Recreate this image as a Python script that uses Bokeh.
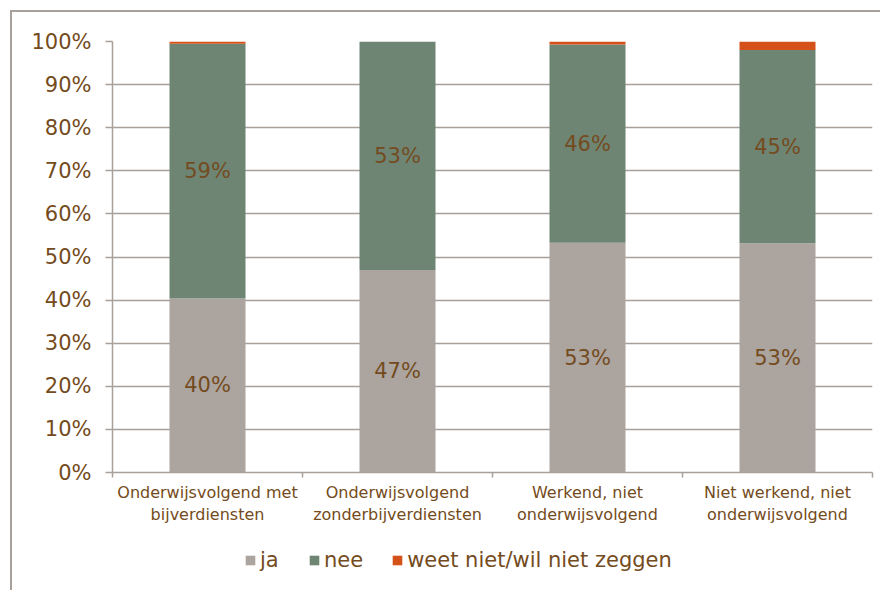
import numpy as np
from bokeh.plotting import figure
from bokeh.layouts import column
from bokeh.core.properties import value
from bokeh.models import (ColumnDataSource, FixedTicker, PrintfTickFormatter, Range1d,
                          Legend, LegendItem, LabelSet)
from bokeh.embed import file_html
from bokeh.resources import INLINE

categories = ["Onderwijsvolgend met\nbijverdiensten",
              "Onderwijsvolgend\nzonderbijverdiensten",
              "Werkend, niet\nonderwijsvolgend",
              "Niet werkend, niet\nonderwijsvolgend"]
ja = [40.4, 47.0, 53.3, 53.2]
nee = [59.1, 53.0, 46.0, 44.8]
weet = [0.5, 0.0, 0.7, 2.0]
series_names = ["ja", "nee", "weet niet/wil niet zeggen"]
y_ticks = list(range(0, 101, 10))

colors = ["#ABA49F", "#6E8574", "#D5511A"]
TXT = "#744B20"
GRID = "#A8A09A"
FONT = "DejaVu Sans"
W = 880

xpos = list(np.arange(len(categories)) + 0.5)
src = ColumnDataSource(dict(
    x=xpos, ja=ja, nee=nee, weet=weet,
    ja_mid=[v / 2 for v in ja],
    nee_mid=[a + b / 2 for a, b in zip(ja, nee)],
    ja_lab=[f"{round(v)}%" for v in ja],
    nee_lab=[f"{round(v)}%" for v in nee],
))

p = figure(width=W, height=530, output_backend="svg", toolbar_location=None,
           x_range=Range1d(0, len(categories)), y_range=Range1d(0, 100),
           min_border_left=112, min_border_right=8, min_border_top=41,
           min_border_bottom=58)
p.outline_line_color = None
p.background_fill_color = "white"
p.border_fill_color = None
p.styles = {
    "background-image": "linear-gradient(#A8A09A,#A8A09A), linear-gradient(#A8A09A,#A8A09A)",
    "background-size": "2px 100%, 100% 2px",
    "background-position": "10px 10px, 10px 10px",
    "background-repeat": "no-repeat",
}

renderers = p.vbar_stack(["ja", "nee", "weet"], x="x", width=0.4, source=src,
                         color=colors, line_color=None)

# Labels
for ycol, tcol in (("ja_mid", "ja_lab"), ("nee_mid", "nee_lab")):
    p.add_layout(LabelSet(x="x", y=ycol, text=tcol, source=src,
                          text_align="center", text_baseline="middle",
                          text_font=value(FONT), text_font_size=value("21px"),
                          text_color=TXT))

# Y axis
p.yaxis.ticker = FixedTicker(ticks=y_ticks, minor_ticks=[])
p.yaxis.formatter = PrintfTickFormatter(format="%d%%")
p.yaxis.major_label_text_font = FONT
p.yaxis.major_label_text_font_size = "21px"
p.yaxis.major_label_text_color = TXT
p.yaxis.major_label_standoff = 14
p.yaxis.major_tick_out = 7
p.yaxis.major_tick_in = 0
p.yaxis.major_tick_line_color = GRID
p.yaxis.major_tick_line_width = 1.5
p.yaxis.axis_line_color = GRID
p.yaxis.axis_line_width = 1.5
p.yaxis.minor_tick_line_color = None

# X axis
p.xaxis.ticker = FixedTicker(ticks=xpos, minor_ticks=list(range(len(categories) + 1)))
p.xaxis.major_label_overrides = {float(x): c for x, c in zip(xpos, categories)}
p.xaxis.major_label_text_font = FONT
p.xaxis.major_label_text_font_size = "16px"
p.xaxis.major_label_text_color = TXT
p.xaxis.major_label_standoff = 4
p.xaxis.major_tick_line_color = None
p.xaxis.minor_tick_out = 5
p.xaxis.minor_tick_in = 0
p.xaxis.minor_tick_line_color = GRID
p.xaxis.minor_tick_line_width = 1.5
p.xaxis.axis_line_color = GRID
p.xaxis.axis_line_width = 1.5

p.xgrid.grid_line_color = None
p.ygrid.ticker = FixedTicker(ticks=y_ticks)
p.ygrid.grid_line_color = GRID
p.ygrid.grid_line_width = 1.5

# Legend in a second, axis-less figure below the chart (its ranges keep the
# proxy bars out of view; only their legend swatches are seen)
p2 = figure(width=W, height=60, output_backend="svg", toolbar_location=None,
            x_range=Range1d(100, 101), y_range=Range1d(1000, 1001),
            x_axis_type=None, y_axis_type=None,
            min_border_left=0, min_border_right=0, min_border_top=0, min_border_bottom=0)
p2.outline_line_color = None
p2.grid.grid_line_color = None
p2.background_fill_color = None
p2.border_fill_color = None
p2.styles = {
    "background-image": "linear-gradient(#A8A09A,#A8A09A)",
    "background-size": "2px 100%",
    "background-position": "10px 0px",
    "background-repeat": "no-repeat",
}
leg_renderers = p2.vbar_stack(["ja", "nee", "weet"], x="x", width=0.4, source=src,
                              color=colors, line_color=None)
legend = Legend(items=[LegendItem(label=n, renderers=[r]) for n, r in zip(series_names, leg_renderers)],
                orientation="horizontal", location=(132, 18),
                padding=0, margin=0, spacing=28, label_standoff=4,
                glyph_width=12, glyph_height=12,
                label_text_font=FONT, label_text_font_size="21px", label_text_color=TXT,
                background_fill_alpha=0, border_line_color=None)
p2.add_layout(legend, "center")

layout = column(p, p2, spacing=0)
open("out.html", "w").write(file_html(layout, INLINE))
